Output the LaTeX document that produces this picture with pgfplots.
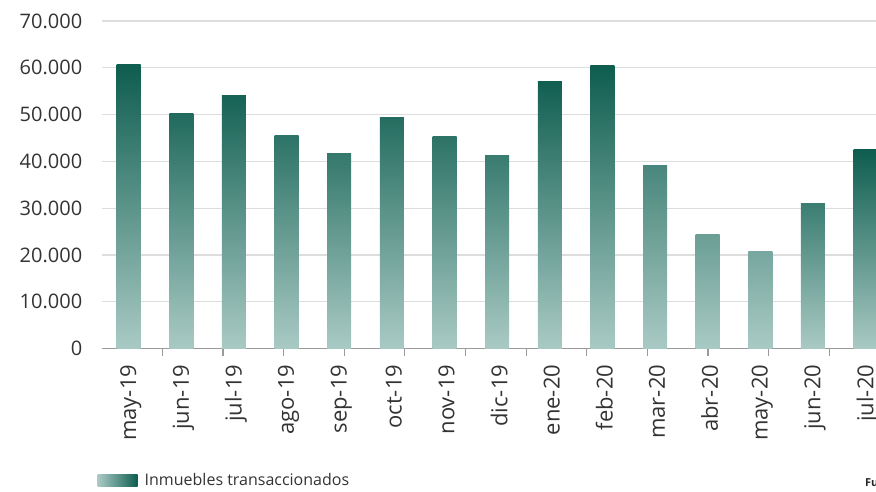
\documentclass[border=0pt]{standalone}
\usepackage{pgfplots}
\pgfplotsset{compat=1.18}
\usepackage{fontspec}
\setmainfont{Open Sans}
\definecolor{dk}{HTML}{0E5D4F}
\definecolor{lt}{HTML}{A9CAC4}
\definecolor{gridc}{HTML}{DDDDDD}
\definecolor{axc}{HTML}{9A9A9A}
\definecolor{txt}{HTML}{333333}
\newcommand{\bbar}[3]{\addplot[ybar, bar width=24pt, bar shift=0pt, draw=none, top color=dk!#3!lt, bottom color=lt, forget plot] coordinates {(#1,#2)};}
\begin{document}
\begin{tikzpicture}
\useasboundingbox (0,0) rectangle (876pt,491pt);
\begin{axis}[
 at={(102.4pt,142.4pt)}, anchor=south west,
 scale only axis, width=815.8pt, height=327.6pt,
 xmin=-0.5, xmax=15, ymin=0, ymax=70000,
 scaled y ticks=false,
 axis x line*=bottom, axis y line*=left,
 y axis line style={draw=none},
 x axis line style={draw=axc, line width=1.4pt},
 ytick={0,10000,...,70000},
 yticklabels={0,10.000,20.000,30.000,40.000,50.000,60.000,70.000},
 ymajorgrids, grid style={draw=gridc, line width=1.2pt},
 ytick style={draw=none},
 yticklabel style={font=\fontsize{20}{24}\selectfont, text=txt, inner sep=0pt, xshift=-20pt},
 xtick={0,...,14},
 xticklabels={may-19,jun-19,jul-19,ago-19,sep-19,oct-19,nov-19,dic-19,ene-20,feb-20,mar-20,abr-20,may-20,jun-20,jul-20},
 xticklabel style={rotate=90, anchor=east, font=\fontsize{22}{24}\selectfont, text=txt, inner sep=0pt, xshift=-16pt, yshift=-2pt},
 tick align=outside,
 major tick length=0pt,
 xtick style={draw=axc, line width=1.2pt},
 extra x ticks={-0.513,0.639,1.791,2.943,4.095,5.247,6.399,7.551,8.703,9.855,11.007,12.159,13.311,14.463},
 extra x tick labels={},
 extra x tick style={major tick length=7pt, xtick style={draw=axc, line width=1.2pt}},
 legend style={at={(-0.006,-0.402)}, anchor=west, draw=none, fill=none, inner sep=0pt,
   font=\fontsize{16}{18}\selectfont, text=txt,
   /tikz/every odd column/.append style={column sep=5pt}},
 legend cell align=left,
]
\bbar{0}{60700}{100}
\bbar{1}{50300}{88}
\bbar{2}{54100}{95}
\bbar{3}{45500}{80}
\bbar{4}{41600}{75}
\bbar{5}{49300}{85}
\bbar{6}{45400}{80}
\bbar{7}{41200}{72}
\bbar{8}{57100}{98}
\bbar{9}{60500}{100}
\bbar{10}{39100}{62}
\bbar{11}{24300}{40}
\bbar{12}{20700}{32}
\bbar{13}{30900}{70}
\bbar{14}{42500}{100}
\addlegendimage{draw=none, legend image code/.code={\shade[draw=none, left color=lt, right color=dk] (0pt,-6pt) rectangle (40pt,6pt);}}
\addlegendentry{Inmuebles transaccionados}
\end{axis}
\node[anchor=base west, inner sep=0pt, font=\fontsize{11}{12}\selectfont\bfseries, text=black!85] at (865pt,5pt) {Fu};
\end{tikzpicture}
\end{document}
